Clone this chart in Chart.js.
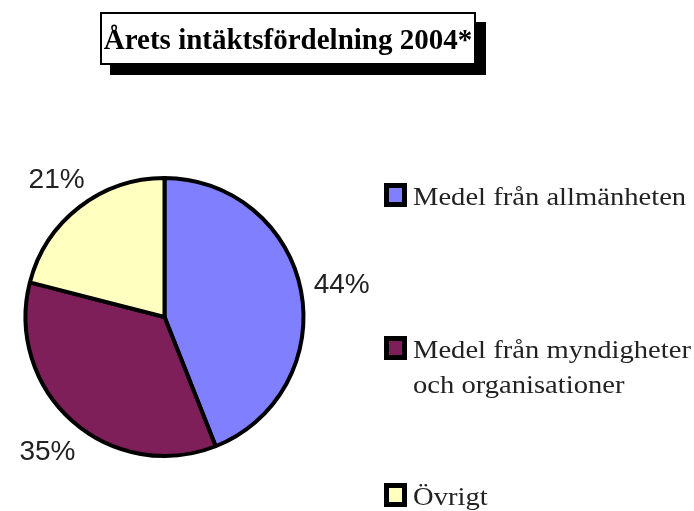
<!DOCTYPE html>
<html>
<head>
<meta charset="utf-8">
<script src="https://cdn.jsdelivr.net/npm/chart.js@4"></script>
<style>
  html, body { margin: 0; padding: 0; background: #fff; }
  #wrap { position: relative; width: 694px; height: 511px; overflow: hidden; }
  #wrap canvas { position: absolute; left: 0; top: 0; }
  .title-box {
    position: absolute; left: 100px; top: 12px; width: 376px; height: 53px;
    box-sizing: border-box; border: 2px solid #000; background: #fff;
    box-shadow: 10px 10px 0 #000;
    font-family: "Liberation Serif", "Times New Roman", serif; font-weight: bold;
    font-size: 29px; line-height: 49px; padding-top: 1px;
    text-align: center; color: #000; white-space: nowrap;
  }
  .leg-box {
    position: absolute; left: 384px; width: 23px; height: 24px;
    box-sizing: border-box; border: 5px solid #000;
  }
  .leg-text {
    position: absolute; left: 413px; white-space: nowrap;
    font-family: "Liberation Serif", "Times New Roman", serif;
    font-size: 26px; line-height: 35px; color: #222;
    transform: scaleX(1.1); transform-origin: left top;
  }
</style>
</head>
<body>
<div id="wrap">
  <canvas id="pie" width="694" height="511"></canvas>
  <div class="title-box">Årets intäktsfördelning 2004*</div>
  <div id="legend"></div>
</div>
<script>
// Årets intäktsfördelning 2004 – andel per källa (%)
var categories  = [['Medel från allmänheten'], ['Medel från myndigheter', 'och organisationer'], ['Övrigt']];
var shares      = [44, 35, 21];
var sliceColors = ['#8080ff', '#7f1f5a', '#ffffc0'];

// legend rows (top of square) – picked to match the original layout
var legendTops = [183, 336, 483];

function buildLegend() {
  var el = document.getElementById('legend');
  var html = '';
  categories.forEach(function(lines, i) {
    html += '<div class="leg-box" style="top:' + legendTops[i] + 'px;background:' + sliceColors[i] + '"></div>'
      + '<div class="leg-text" style="top:' + (legendTops[i] - 4) + 'px">' + lines.join('<br>') + '</div>';
  });
  el.innerHTML = html;
}

// percentage labels just outside each slice
var outsideLabels = {
  id: 'outsideLabels',
  afterDatasetsDraw: function(chart) {
    var ctx = chart.ctx;
    var meta = chart.getDatasetMeta(0);
    var data = chart.data.datasets[0].data;
    ctx.save();
    ctx.font = '28px "Liberation Sans", Arial, sans-serif';
    ctx.fillStyle = '#222';
    ctx.textAlign = 'center';
    ctx.textBaseline = 'alphabetic';
    var capH = 20, gap = 12;
    meta.data.forEach(function(arc, i) {
      var p = arc.getProps(['x', 'y', 'startAngle', 'endAngle', 'outerRadius'], true);
      var mid = (p.startAngle + p.endAngle) / 2;
      var dx = Math.cos(mid), dy = Math.sin(mid);
      var txt = data[i] + '%';
      var w = ctx.measureText(txt).width;
      var d = p.outerRadius + gap + Math.abs(dx) * w / 2 + Math.abs(dy) * capH / 2;
      ctx.fillText(txt, p.x + dx * d, p.y + dy * d + capH / 2);
    });
    ctx.restore();
  }
};

buildLegend();

new Chart(document.getElementById('pie').getContext('2d'), {
  type: 'pie',
  data: {
    labels: categories.map(function(c) { return c.join(' '); }),
    datasets: [{
      data: shares,
      backgroundColor: sliceColors,
      borderColor: '#000',
      borderWidth: 4
    }]
  },
  options: {
    responsive: false,
    animation: false,
    layout: { padding: { left: 23, top: 176, right: 388, bottom: 53 } },
    plugins: {
      legend: { display: false },
      tooltip: { enabled: false },
      title: { display: false }
    }
  },
  plugins: [outsideLabels]
});
</script>
</body>
</html>
